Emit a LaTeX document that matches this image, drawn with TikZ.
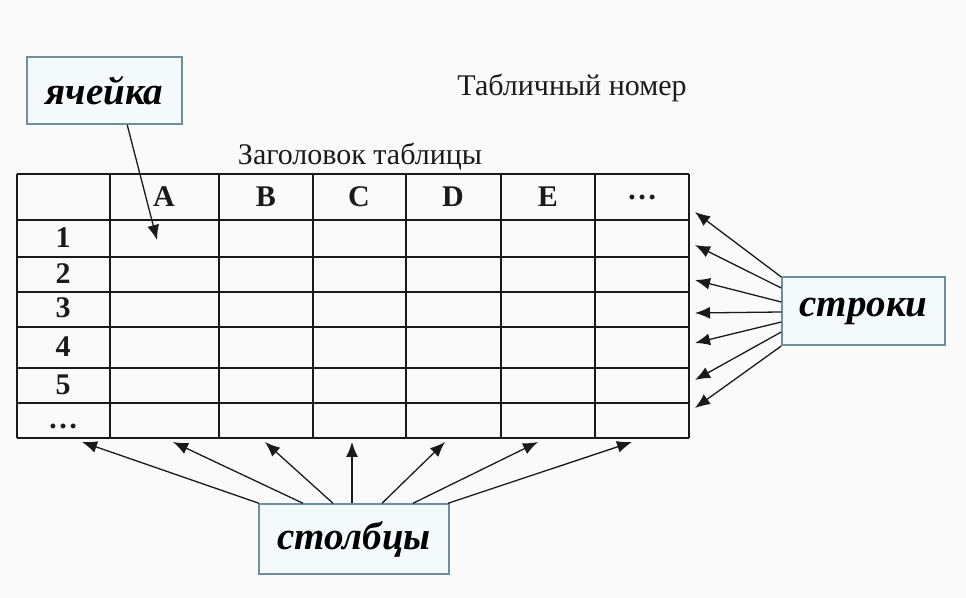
\documentclass[tikz,border=0pt]{standalone}
\usepackage{fontspec}
\setmainfont{Liberation Serif}
\usepackage{xcolor}
\usetikzlibrary{arrows.meta,positioning,calc}
\definecolor{paper}{HTML}{FAFAFA}
\definecolor{ink}{HTML}{1A1A1A}
\definecolor{boxline}{HTML}{6E8F9C}
\definecolor{boxfill}{HTML}{F4FAFC}
\tikzset{
  labelbox/.style={draw=boxline, fill=boxfill, line width=0.7pt, inner sep=0pt,
                   font=\fontsize{19.5}{23}\selectfont\bfseries\itshape},
  pointer/.style={-{Latex[length=7.5pt,width=6pt]}, line width=0.65pt, draw=ink},
  gridline/.style={draw=ink, line width=1pt},
  headcell/.style={font=\fontsize{15}{17}\selectfont\bfseries, text=ink, inner sep=0pt},
  caption/.style={font=\fontsize{15}{18}\selectfont, text=ink, inner sep=0pt}
}

\begin{document}
\begin{tikzpicture}[x=0.5pt,y=-0.5pt]
        \fill[paper] (0,0) rectangle (966,598);
        \useasboundingbox (0,0) rectangle (966,598);
        % table grid
        \foreach \x in {17,110,219,313,406,501,595,689} {
          \draw[gridline] (\x,174) -- (\x,438);
        }
        \foreach \y in {174,220,257,292,327,368,403,438} {
          \draw[gridline] (17,\y) -- (689,\y);
        }
        % column heads
        \foreach \x/\n/\t in {164/1/A,266/2/B,359/3/C,453/4/D,548/5/E,642/6/\dots} {
          \node[headcell] (head\n) at (\x,197) {\t};
        }
        % row numbers
        \foreach \y/\n/\t in {238/1/1,274/2/2,308/3/3,347/4/4,385/5/5,426/6/\dots} {
          \node[headcell] (num\n) at (63,\y) {\t};
        }
        \node[caption] (tabnum) at (572,88) {Табличный номер};
        \node[caption] (tabhead) at (360,157) {Заголовок таблицы};
        % label boxes
        \node[labelbox, minimum width=77.5pt, minimum height=33.5pt] (cellbox) at (104.5,90.5) {ячейка};
        \node[labelbox, minimum width=81.5pt, minimum height=34pt] (rowbox) at (863.5,311) {строки};
        \node[labelbox, minimum width=95pt, minimum height=35pt] (colbox) at (354,539) {столбцы};
        % arrow ends
        \coordinate (cellpt) at (157,240);
        \foreach \n/\y in {1/212,2/245,3/280,4/313,5/343,6/380,7/408} {
          \coordinate (rowpt\n) at (695,\y);
        }
        \foreach \n/\x in {1/82,2/173,3/265,4/352,5/445,6/538,7/632} {
          \coordinate (colpt\n) at (\x,442);
        }
        \draw[pointer] ($(cellbox.south west)!0.645!(cellbox.south east)$) -- (cellpt);
        \foreach \n/\y in {1/277,2/288,3/302,4/312,5/322,6/332,7/346} {
          \draw[pointer] (rowbox.west |- 0,\y) -- (rowpt\n);
        }
        \foreach \n/\x in {1/259,2/303,3/333,4/352,5/382,6/413,7/448} {
          \draw[pointer] (colbox.north -| \x,0) -- (colpt\n);
        }
      \end{tikzpicture}
\end{document}
